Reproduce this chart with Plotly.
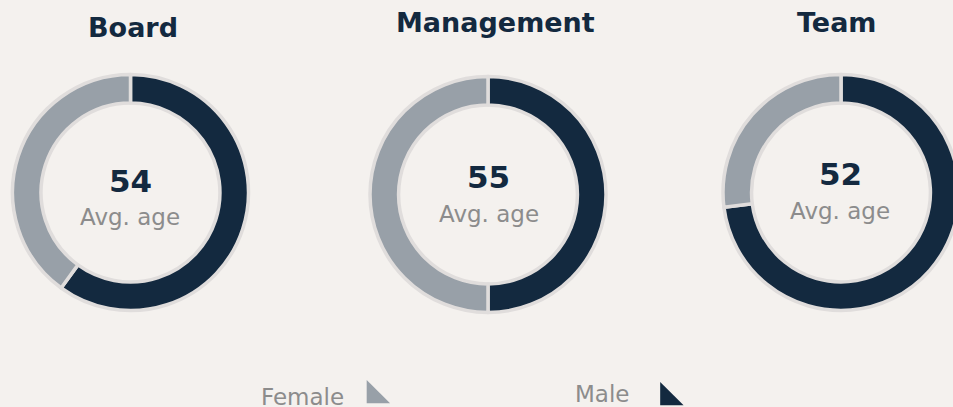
import plotly.graph_objects as go

# ---- data ----
groups = ["Board", "Management", "Team"]
avg_age = [54, 55, 52]
genders = ["Male", "Female"]
male_pct = [60, 50, 73]
female_pct = [40, 50, 27]
legend_labels = ["Female", "Male"]
avg_label = "Avg. age"

# ---- style / layout geometry (pixels) ----
W, H = 962, 407          # figure slightly wider than the 953px window; the right edge is clipped like the reference
BG = "#f4f1ee"
NAVY = "#13293f"
GREY = "#98a0a8"
RING = "#e0dddc"
TEXT_GREY = "#8c8c8c"
FONT = "DejaVu Sans"

centers = [(130.5, 192.5), (488.0, 194.5), (841.0, 192.5)]
R = 118
HOLE = 0.758
title_pos = [(133, 27), (495, 22), (837, 22)]
num_pos = [(130, 181), (488.5, 177), (840, 174)]
sub_pos = [(129.5, 217), (489, 214), (840, 211)]
legend_text_pos = [(302.5, 397), (601.5, 394)]
legend_mark_pos = [(374.5, 395.5), (668, 397.5)]
legend_colors = [GREY, NAVY]

fig = go.Figure()

for i, g in enumerate(groups):
    cx, cy = centers[i]
    x0 = max(0.0, (cx - R) / W)
    x1 = min(1.0, (cx + R) / W)
    y0 = max(0.0, (H - cy - R) / H)
    y1 = min(1.0, (H - cy + R) / H)
    fig.add_trace(go.Pie(
        labels=genders,
        values=[male_pct[i], female_pct[i]],
        hole=HOLE,
        sort=False,
        direction="clockwise",
        rotation=0,
        domain=dict(x=[x0, x1], y=[y0, y1]),
        marker=dict(colors=[NAVY, GREY], line=dict(color=RING, width=3.5)),
        textinfo="none",
        showlegend=False,
        name=g,
    ))

# legend triangles (overlay pixel axes)
fig.add_trace(go.Scatter(
    x=[p[0] for p in legend_mark_pos],
    y=[p[1] for p in legend_mark_pos],
    mode="markers",
    marker=dict(symbol="triangle-sw", size=26, color=legend_colors, line=dict(width=0)),
    showlegend=False,
    hoverinfo="skip",
    cliponaxis=False,
))

annotations = []
for i, g in enumerate(groups):
    annotations.append(dict(x=title_pos[i][0], y=title_pos[i][1], xref="x", yref="y",
                            text=f"<b>{g}</b>", showarrow=False, xanchor="center", yanchor="middle",
                            font=dict(family=FONT, size=27, color=NAVY)))
    annotations.append(dict(x=num_pos[i][0], y=num_pos[i][1], xref="x", yref="y",
                            text=f"<b>{avg_age[i]}</b>", showarrow=False, xanchor="center", yanchor="middle",
                            font=dict(family=FONT, size=31, color=NAVY)))
    annotations.append(dict(x=sub_pos[i][0], y=sub_pos[i][1], xref="x", yref="y",
                            text=avg_label, showarrow=False, xanchor="center", yanchor="middle",
                            font=dict(family=FONT, size=23, color=TEXT_GREY)))
for j, lab in enumerate(legend_labels):
    annotations.append(dict(x=legend_text_pos[j][0], y=legend_text_pos[j][1], xref="x", yref="y",
                            text=lab, showarrow=False, xanchor="center", yanchor="middle",
                            font=dict(family=FONT, size=23, color=TEXT_GREY)))

fig.update_layout(
    width=W, height=H,
    margin=dict(l=0, r=0, t=0, b=0),
    paper_bgcolor=BG, plot_bgcolor="rgba(0,0,0,0)",
    xaxis=dict(range=[0, W], visible=False, fixedrange=True, domain=[0, 1]),
    yaxis=dict(range=[H, 0], visible=False, fixedrange=True, domain=[0, 1]),
    annotations=annotations,
    showlegend=False,
)

fig.write_html(
    "out.html",
    config={"displayModeBar": False},
    post_script="document.body.style.margin='0';document.body.style.overflow='hidden';"
                "document.documentElement.style.overflow='hidden';"
                "document.body.style.background='" + BG + "';",
)
